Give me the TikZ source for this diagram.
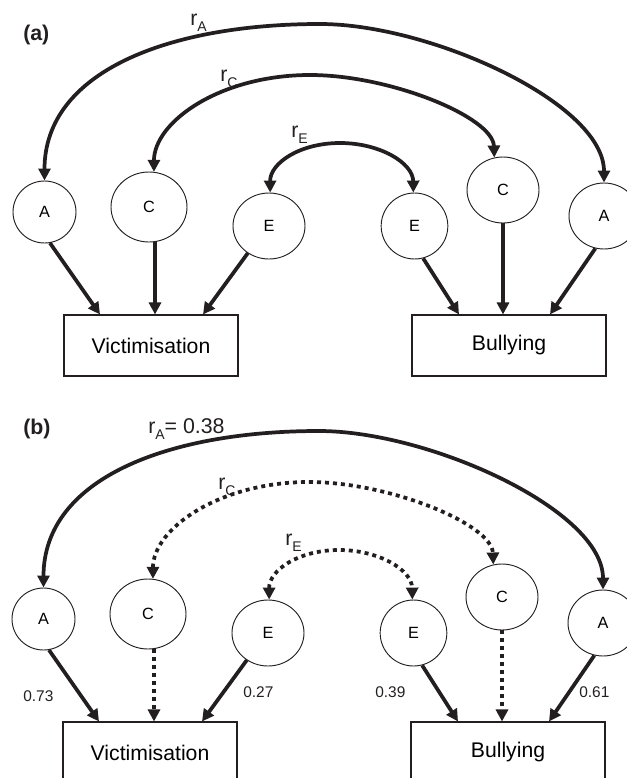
\documentclass[tikz,border=0pt]{standalone}
\usepackage{fontspec}
\setmainfont{Liberation Sans}
\usetikzlibrary{shapes.geometric,arrows.meta}
\definecolor{ink}{RGB}{35,31,32}
\newcommand\lowsub[1]{\raisebox{-4.5pt}{\fontsize{10.5}{11}\selectfont #1}}
\tikzset{
  lat/.style={ellipse, draw=ink, line width=0.7pt, inner sep=0pt, font=\fontsize{12.2}{14}\selectfont},
  obs/.style={rectangle, draw=ink, line width=0.8pt, inner sep=0pt, font=\fontsize{15.9}{18}\selectfont},
  tip/.style={-{Triangle[length=9pt,width=9pt]}},
  arr/.style={draw=ink, line width=2.8pt, tip},
  varr/.style={draw=ink, line width=3.4pt, tip},
  dotline/.style={dash pattern=on 3pt off 3pt},
  corr/.style={draw=ink, line width=2.8pt, {Triangle[length=9pt,width=9pt]}-{Triangle[length=9pt,width=9pt]}},
  lbl/.style={anchor=base west, inner sep=0pt, text=ink, font=\fontsize{16}{18}\selectfont},
  num/.style={anchor=base west, inner sep=0pt, text=ink, font=\fontsize{11.6}{13}\selectfont},
  panel/.style={anchor=base west, inner sep=0pt, text=ink, font=\fontsize{16}{18}\selectfont\bfseries},
}
\begin{document}
\begin{tikzpicture}[x=0.75pt,y=-0.75pt]
\useasboundingbox (0,0) rectangle (627,778);

% ---------------- panel (a) ----------------
\node[lat, minimum width=47.25pt, minimum height=46.5pt] (Al) at (44.5,212) {A};
\node[lat, minimum width=57pt, minimum height=52.5pt] (Cl) at (149,207) {C};
\node[lat, minimum width=54pt, minimum height=49.5pt] (El) at (269,226) {E};
\node[lat, minimum width=50pt, minimum height=49.5pt] (Er) at (414.5,226) {E};
\node[lat, minimum width=54pt, minimum height=49.5pt] (Cr) at (503,190) {C};
\node[lat, minimum width=52.5pt, minimum height=49.5pt] (Ar) at (604,216) {A};
\node[obs, minimum width=130.5pt, minimum height=45.75pt] (V) at (151,345.5) {Victimisation};
\node[obs, minimum width=145.5pt, minimum height=45.75pt] (B) at (509,345.5) {Bullying};

\draw[arr] (Al.-80) -- ([xshift=-38.25pt]V.north);
\draw[varr] ([xshift=4.5pt]Cl.south) -- ([xshift=3pt]V.north);
\draw[arr] (El.-128) -- ([xshift=39pt]V.north);
\draw[arr] (Er.-75) -- ([xshift=-37.5pt]B.north);
\draw[varr] (Cr.south) -- ([xshift=-4.5pt]B.north);
\draw[arr] (Ar.-105) -- ([xshift=30.75pt]B.north);

\draw[corr] (Al.north) .. controls (44.5,71) and (170,24) .. (320,24)
  .. controls (430,24) and (604,103) .. (Ar.north);
\draw[corr] (Cl.82) .. controls (154,122) and (220,75) .. (310,75)
  .. controls (390,75) and (493,117) .. (Cr.105);
\draw[corr] (El.88) .. controls (270,163) and (300,143) .. (340,143)
  .. controls (380,143) and (413,163) .. (Er.92);

\node[panel] (pa) at (23,40) {(a)};
\node[lbl] (ra) at (190,26) {r\lowsub{A}};
\node[lbl] (rc) at (220,81) {r\lowsub{C}};
\node[lbl] (re) at (291,137) {r\lowsub{E}};

% ---------------- panel (b) ----------------
\begin{scope}[shift={(-1,407)}]
\node[lat, minimum width=47.25pt, minimum height=46.5pt] (bAl) at (44.5,212) {A};
\node[lat, minimum width=57pt, minimum height=52.5pt] (bCl) at (149,207) {C};
\node[lat, minimum width=54pt, minimum height=49.5pt] (bEl) at (269,226) {E};
\node[lat, minimum width=50pt, minimum height=49.5pt] (bEr) at (414.5,226) {E};
\node[lat, minimum width=54pt, minimum height=49.5pt] (bCr) at (503,190) {C};
\node[lat, minimum width=52.5pt, minimum height=49.5pt] (bAr) at (604,216) {A};
\node[obs, minimum width=130.5pt, minimum height=45.75pt] (bV) at (151,345.5) {Victimisation};
\node[obs, minimum width=145.5pt, minimum height=45.75pt] (bB) at (509,345.5) {Bullying};

\draw[arr] (bAl.-80) -- ([xshift=-38.25pt]bV.north);
\draw[varr, dotline] ([xshift=4.5pt]bCl.south) -- ([xshift=3pt]bV.north);
\draw[arr] (bEl.-128) -- ([xshift=39pt]bV.north);
\draw[arr] (bEr.-75) -- ([xshift=-37.5pt]bB.north);
\draw[varr, dotline] (bCr.south) -- ([xshift=-4.5pt]bB.north);
\draw[arr] (bAr.-105) -- ([xshift=30.75pt]bB.north);

\draw[corr] (bAl.north) .. controls (44.5,71) and (170,24) .. (320,24)
  .. controls (430,24) and (604,103) .. (bAr.north);
\draw[corr, dotline] (bCl.82) .. controls (154,122) and (220,75) .. (310,75)
  .. controls (390,75) and (493,117) .. (bCr.105);
\draw[corr, dotline] (bEl.88) .. controls (270,163) and (300,143) .. (340,143)
  .. controls (380,143) and (413,163) .. (bEr.92);
\end{scope}

\node[panel] (pb) at (23,434) {(b)};
\node[lbl] (bra) at (148,433) {r\lowsub{A}= 0.38};
\node[lbl] (brc) at (218,489) {r\lowsub{C}};
\node[lbl] (bre) at (285,545) {r\lowsub{E}};

\node[num] (n1) at (23,701) {0.73};
\node[num] (n2) at (243,697) {0.27};
\node[num] (n3) at (375,697) {0.39};
\node[num] (n4) at (579,697) {0.61};
\end{tikzpicture}
\end{document}
